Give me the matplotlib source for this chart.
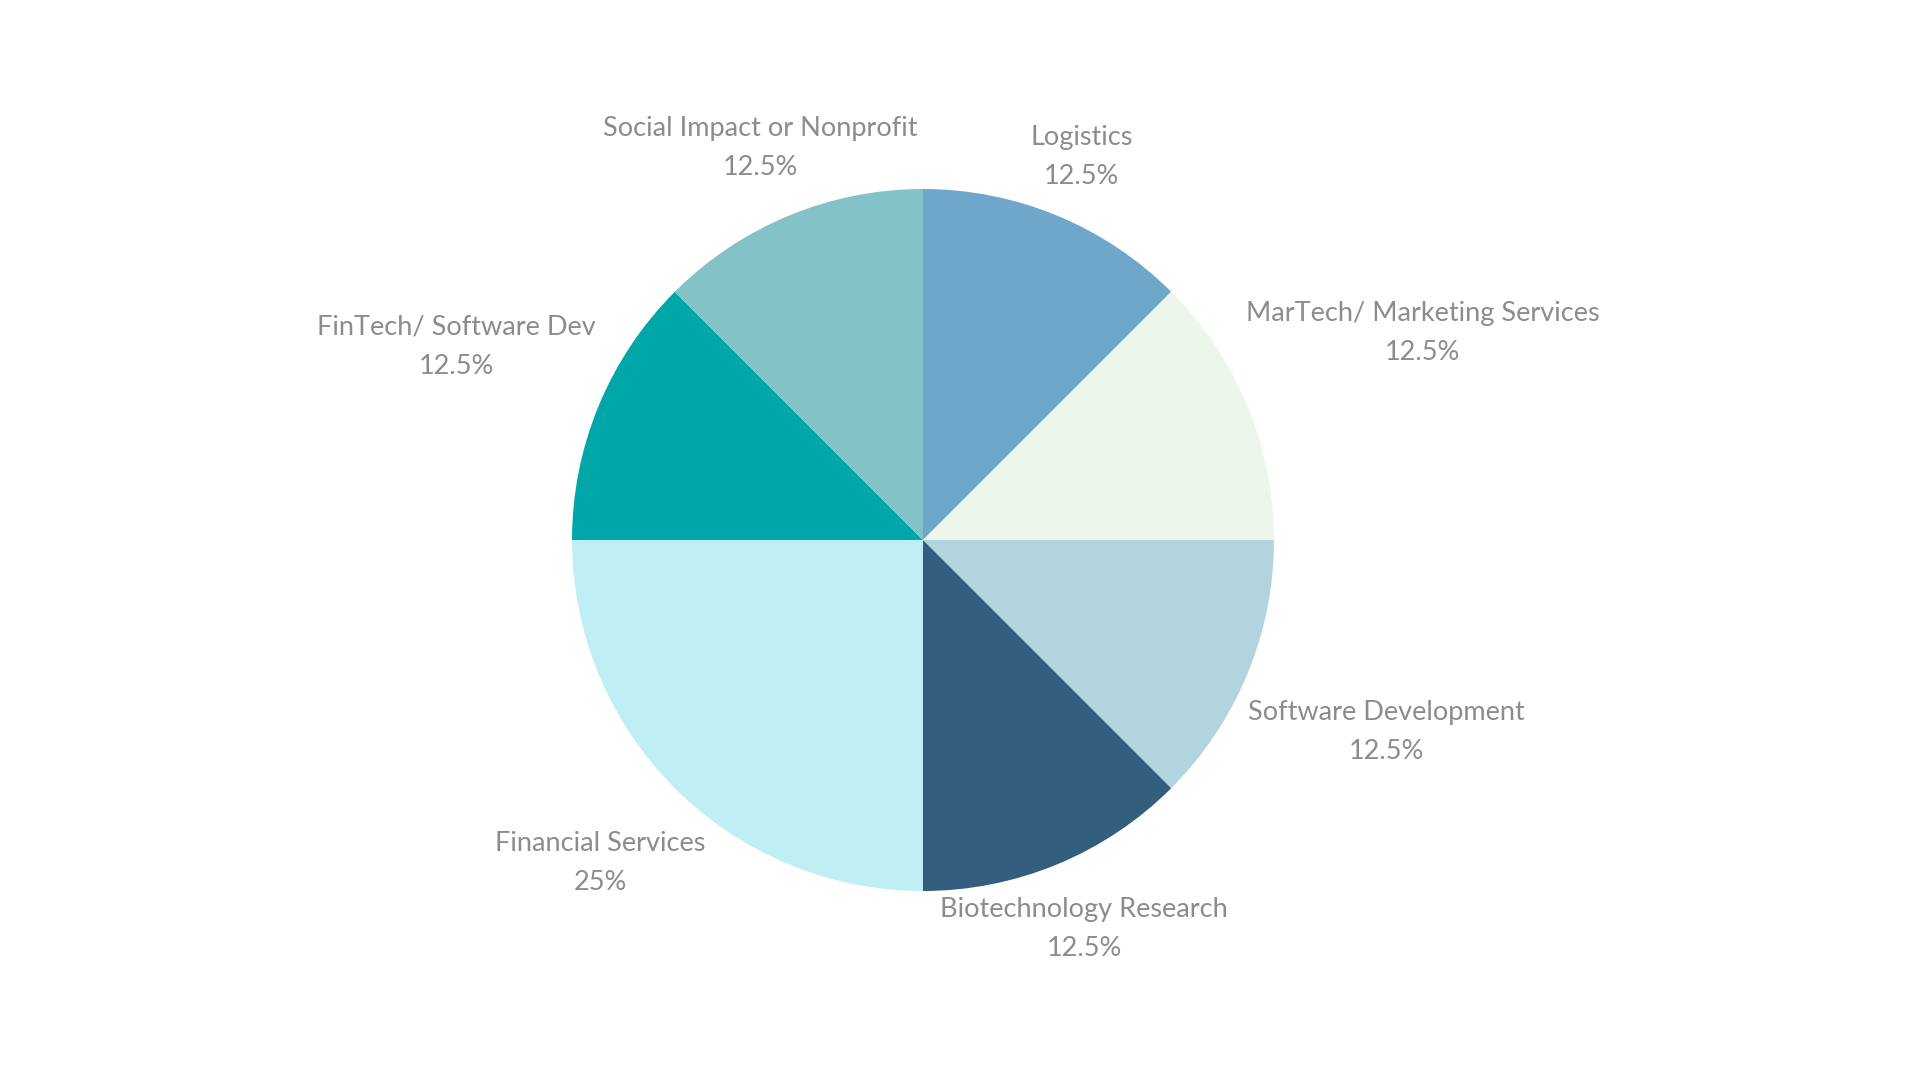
import matplotlib.pyplot as plt
import numpy as np

# data (clockwise from top)
sectors = ['Logistics', 'MarTech/ Marketing Services', 'Software Development',
           'Biotechnology Research', 'Financial Services', 'FinTech/ Software Dev',
           'Social Impact or Nonprofit']
shares = [12.5, 12.5, 12.5, 12.5, 25, 12.5, 12.5]
pct_labels = ['12.5%', '12.5%', '12.5%', '12.5%', '25%', '12.5%', '12.5%']

colors = ['#6FA7CB', '#EDF6EA', '#B1D4DF', '#335E7E', '#BFEEF5', '#00A7A8', '#83C2C7']
# radial distance of each label centre (in pie radii)
label_r = [1.18, 1.54, 1.43, 1.20, 1.30, 1.44, 1.21]

plt.rcParams['font.family'] = ['Lato', 'DejaVu Sans']

fig = plt.figure(figsize=(19.2, 10.8), dpi=100)
ax = fig.add_axes([0, 0, 1, 1])

wedges, _ = ax.pie(shares, colors=colors, startangle=90, counterclock=False,
                   radius=1, wedgeprops=dict(linewidth=0))

for w, name, pct, r in zip(wedges, sectors, pct_labels, label_r):
    mid = np.deg2rad((w.theta1 + w.theta2) / 2)
    ax.text(r * np.cos(mid), r * np.sin(mid), f'{name}\n{pct}',
            ha='center', va='center', fontsize=19.5, color='#8C8C8C',
            linespacing=1.7)

# pie centre at (923, 540) px, radius 351 px
scale = 351
ax.set_xlim(-923 / scale, (1920 - 923) / scale)
ax.set_ylim(-540 / scale, 540 / scale)
ax.set_aspect('equal')
ax.axis('off')

plt.savefig('out.png', dpi=100, facecolor='white')
